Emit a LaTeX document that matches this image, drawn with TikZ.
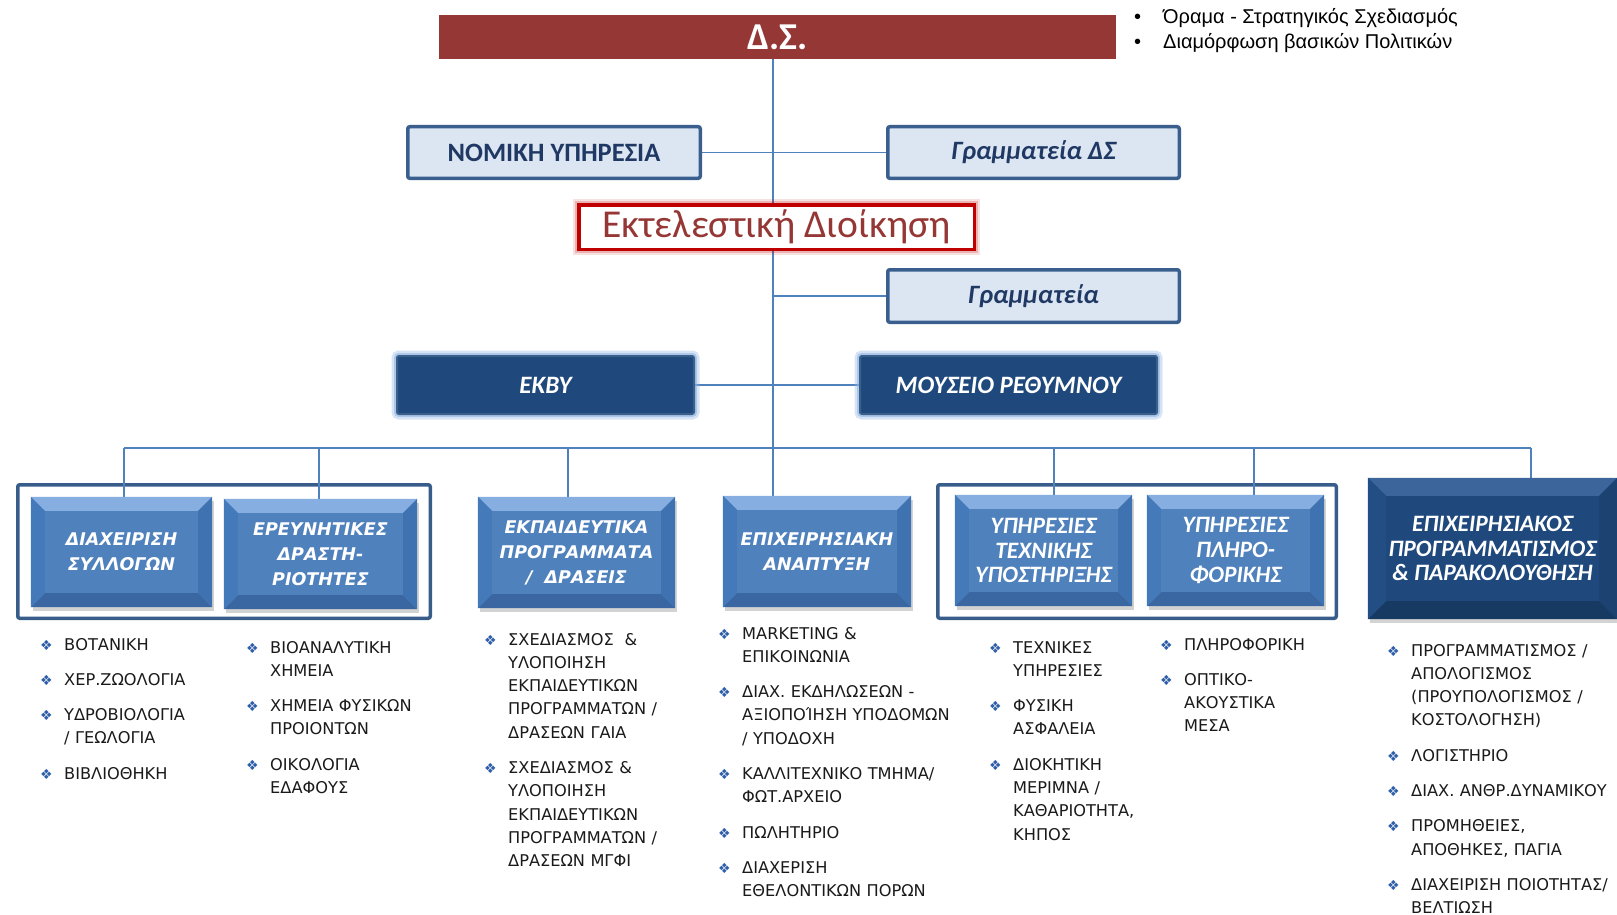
\documentclass[tikz,border=0pt]{standalone}
\usepackage{fontspec}
\setmainfont{DejaVu Sans}
\newfontfamily\carl{Carlito}
\newfontfamily\narrowsans{Liberation Sans}
\usetikzlibrary{calc,shadows}
\pgfdeclarelayer{grp}
\pgfdeclarelayer{lines}
\pgfsetlayers{grp,lines,main}
\definecolor{conn}{HTML}{4F81BD}
\definecolor{dsred}{HTML}{953735}
\definecolor{navytxt}{HTML}{1F3864}
\definecolor{lightfill}{HTML}{DCE6F2}
\definecolor{lightborder}{HTML}{3A5F8F}
\definecolor{execred}{HTML}{C00000}
\definecolor{exectxt}{HTML}{953735}
\definecolor{navy}{HTML}{1F497D}
\definecolor{navyedge}{HTML}{3A5F8B}
\definecolor{glowblue}{HTML}{8DB3E2}
\definecolor{grpborder}{HTML}{385D8A}
\definecolor{bulc}{HTML}{2F5FA8}
\definecolor{listtxt}{HTML}{1A1A1A}
\definecolor{lbface}{HTML}{4F81BD}
\definecolor{lbtop}{HTML}{86AEE0}
\definecolor{lbleft}{HTML}{4479BA}
\definecolor{lbright}{HTML}{3F72B0}
\definecolor{lbbot}{HTML}{3A67A2}
\definecolor{dbface}{HTML}{1F497D}
\definecolor{dbtop}{HTML}{3B659B}
\definecolor{dbleft}{HTML}{234E84}
\definecolor{dbright}{HTML}{1B4271}
\definecolor{dbbot}{HTML}{173A63}
\tikzset{
  conline/.style={draw=conn, line width=1.2pt},
  dsbar/.style={fill=dsred, inner sep=0pt, text=white, font=\carl\bfseries\fontsize{38}{40}\selectfont},
  lightbox/.style={draw=lightborder, line width=3.5pt, fill=lightfill, rounded corners=2pt, inner sep=0pt,
     text=navytxt, font=\carl\bfseries\fontsize{26.5}{30}\selectfont},
  lightboxit/.style={lightbox, font=\carl\bfseries\itshape\fontsize{26.5}{30}\selectfont},
  execbox/.style={draw=execred, line width=3.5pt, fill=white, inner sep=0pt, text=exectxt,
     font=\carl\fontsize{39.5}{42}\selectfont,
     preaction={draw=execred, line width=11pt, opacity=0.12},
     preaction={draw=execred, line width=7pt, opacity=0.2}},
  navybox/.style={fill=navy, draw=navyedge, line width=2pt, rounded corners=2pt, inner sep=0pt, text=white,
     font=\carl\bfseries\itshape\fontsize{25}{28}\selectfont,
     preaction={draw=glowblue, line width=11pt, opacity=0.35, rounded corners=4pt},
     preaction={draw=glowblue, line width=6pt, opacity=0.6, rounded corners=3pt}},
  grpbox/.style={draw=grpborder, line width=3.5pt, fill=white, rounded corners=2pt, inner sep=0pt},
  bevbase/.style={inner sep=0pt, drop shadow={opacity=0.35, shadow xshift=2pt, shadow yshift=-4pt}},
  bevfontA/.style={font=\bfseries\itshape\fontsize{17.5}{25}\selectfont},
  bevfontB/.style={font=\carl\bfseries\itshape\fontsize{23.5}{24.7}\selectfont},
  bevtext/.style={text=white, align=center, inner sep=0pt},
  listcol/.style={anchor=base west, inner sep=0pt, text width=260pt, align=left, text=listtxt,
     font=\fontsize{16.2}{23.3}\selectfont},
  topnote/.style={anchor=base west, inner sep=0pt, font=\narrowsans\fontsize{20}{24}\selectfont}
}
\newcommand\li[1]{\noindent\llap{\textcolor{bulc}{\fontsize{14}{14}\selectfont ❖}\hspace{11.5pt}}#1\par}
\newcommand\bevelbox[9]{%
  \node[bevbase, fill=#6face, minimum width=#4pt, minimum height=#5pt] (#1) at (#2,#3) {};
  \fill[#6top] (#1.north west) -- (#1.north east) -- ($(#1.north east)+(-#7pt,-#7pt)$) -- ($(#1.north west)+(#7pt,-#7pt)$) -- cycle;
  \fill[#6bot] (#1.south west) -- (#1.south east) -- ($(#1.south east)+(-#7pt,#7pt)$) -- ($(#1.south west)+(#7pt,#7pt)$) -- cycle;
  \fill[#6left] (#1.north west) -- ($(#1.north west)+(#7pt,-#7pt)$) -- ($(#1.south west)+(#7pt,#7pt)$) -- (#1.south west) -- cycle;
  \fill[#6right] (#1.north east) -- ($(#1.north east)+(-#7pt,-#7pt)$) -- ($(#1.south east)+(-#7pt,#7pt)$) -- (#1.south east) -- cycle;
  \node[bevtext, #8] (#1t) at (#1.center) {#9};
}
\begin{document}
\begin{tikzpicture}[x=1pt,y=-1pt]
\useasboundingbox (0,0) rectangle (1617,915);

% top
\node[dsbar, minimum width=677pt, minimum height=44pt] (ds) at (777.5,37) {Δ.Σ.};
\node[topnote] (note1) at (1134,24) {•\hspace{22pt}Όραμα - Στρατηγικός Σχεδιασμός};
\node[topnote] (note2) at (1134,49) {•\hspace{22pt}Διαμόρφωση βασικών Πολιτικών};

\node[lightbox, minimum width=292.5pt, minimum height=51.5pt] (nomiki) at (554,152.5) {ΝΟΜΙΚΗ ΥΠΗΡΕΣΙΑ};
\node[lightboxit, minimum width=291.5pt, minimum height=51.5pt] (gramds) at (1033.5,152.5) {Γραμματεία ΔΣ};
\node[execbox, minimum width=395.5pt, minimum height=44.5pt] (exec) at (776.5,227) {Εκτελεστική Διοίκηση};
\node[lightboxit, minimum width=291.5pt, minimum height=52.5pt] (gram) at (1033.5,296) {Γραμματεία};
\node[navybox, minimum width=297pt, minimum height=58pt] (ekby) at (545.5,385) {ΕΚΒΥ};
\node[navybox, minimum width=297pt, minimum height=58pt] (mous) at (1008.5,385) {ΜΟΥΣΕΙΟ ΡΕΘΥΜΝΟΥ};

% groups
\begin{pgfonlayer}{grp}
\node[grpbox, minimum width=412.5pt, minimum height=133.5pt] (g1) at (224,551.5) {};
\node[grpbox, minimum width=398.5pt, minimum height=133.5pt] (g2) at (1137,551.5) {};
\end{pgfonlayer}

% bevel boxes
\bevelbox{b1}{121.5}{552}{181}{110}{lb}{14}{bevfontA}{ΔΙΑΧΕΙΡΙΣΗ\\ΣΥΛΛΟΓΩΝ}
\bevelbox{b2}{320.5}{554}{193}{110}{lb}{14}{bevfontA}{ΕΡΕΥΝΗΤΙΚΕΣ\\ΔΡΑΣΤΗ-\\ΡΙΟΤΗΤΕΣ}
\bevelbox{b3}{576.5}{552.5}{197}{111}{lb}{14}{bevfontA}{ΕΚΠΑΙΔΕΥΤΙΚΑ\\ΠΡΟΓΡΑΜΜΑΤΑ\\/ \ ΔΡΑΣΕΙΣ}
\bevelbox{b4}{817}{551.5}{188}{111}{lb}{14}{bevfontA}{ΕΠΙΧΕΙΡΗΣΙΑΚΗ\\ΑΝΑΠΤΥΞΗ}
\bevelbox{b5}{1043.5}{550.5}{177}{111}{lb}{14}{bevfontB}{ΥΠΗΡΕΣΙΕΣ\\ΤΕΧΝΙΚΗΣ\\ΥΠΟΣΤΗΡΙΞΗΣ}
\bevelbox{b6}{1235.5}{550.5}{177}{111}{lb}{14}{bevfontB}{ΥΠΗΡΕΣΙΕΣ\\ΠΛΗΡΟ-\\ΦΟΡΙΚΗΣ}
\bevelbox{b7}{1492.5}{548.5}{249}{141}{db}{18}{bevfontB}{ΕΠΙΧΕΙΡΗΣΙΑΚΟΣ\\ΠΡΟΓΡΑΜΜΑΤΙΣΜΟΣ\\\& ΠΑΡΑΚΟΛΟΥΘΗΣΗ}

% connectors
\begin{pgfonlayer}{lines}
\coordinate (tr0) at (773,59);
\coordinate (bus1) at (124,448);
\coordinate (bus2) at (319,448);
\coordinate (bus3) at (568,448);
\coordinate (bus5) at (1054,448);
\coordinate (bus6) at (1254,448);
\coordinate (bus7) at (1531,448);
\draw[conline] (tr0) -- (tr0 |- b4.north);
\draw[conline] (nomiki.east) -- (gramds.west);
\draw[conline] (tr0 |- gram.west) -- (gram.west);
\draw[conline] (ekby.east) -- (mous.west);
\draw[conline] (bus1) -- (bus7);
\draw[conline] (bus1) -- (bus1 |- b1.north);
\draw[conline] (bus2) -- (bus2 |- b2.north);
\draw[conline] (bus3) -- (bus3 |- b3.north);
\draw[conline] (bus5) -- (bus5 |- b5.north);
\draw[conline] (bus6) -- (bus6 |- b6.north);
\draw[conline] (bus7) -- (bus7 |- b7.north);
\end{pgfonlayer}

% lists
\node[listcol] (L1) at (64,650) {\setlength\parskip{12pt}%
\li{ΒΟΤΑΝΙΚΗ}
\li{ΧΕΡ.ΖΩΟΛΟΓΙΑ}
\li{ΥΔΡΟΒΙΟΛΟΓΙΑ\\/ ΓΕΩΛΟΓΙΑ}
\li{ΒΙΒΛΙΟΘΗΚΗ}};
\node[listcol] (L2) at (270,653) {\setlength\parskip{12pt}%
\li{ΒΙΟΑΝΑΛΥΤΙΚΗ\\ΧΗΜΕΙΑ}
\li{ΧΗΜΕΙΑ ΦΥΣΙΚΩΝ\\ΠΡΟΙΟΝΤΩΝ}
\li{ΟΙΚΟΛΟΓΙΑ\\ΕΔΑΦΟΥΣ}};
\node[listcol] (L3) at (508,645) {\setlength\parskip{12pt}%
\li{ΣΧΕΔΙΑΣΜΟΣ \ \&\\ΥΛΟΠΟΙΗΣΗ\\ΕΚΠΑΙΔΕΥΤΙΚΩΝ\\ΠΡΟΓΡΑΜΜΑΤΩΝ /\\ΔΡΑΣΕΩΝ ΓΑΙΑ}
\li{ΣΧΕΔΙΑΣΜΟΣ \&\\ΥΛΟΠΟΙΗΣΗ\\ΕΚΠΑΙΔΕΥΤΙΚΩΝ\\ΠΡΟΓΡΑΜΜΑΤΩΝ /\\ΔΡΑΣΕΩΝ ΜΓΦΙ}};
\node[listcol] (L4) at (742,639) {\setlength\parskip{12pt}%
\li{MARKETING \&\\ΕΠΙΚΟΙΝΩΝΙΑ}
\li{ΔΙΑΧ. ΕΚΔΗΛΩΣΕΩΝ -\\ΑΞΙΟΠΟΊΗΣΗ ΥΠΟΔΟΜΩΝ\\/ ΥΠΟΔΟΧΗ}
\li{ΚΑΛΛΙΤΕΧΝΙΚΟ ΤΜΗΜΑ/\\ΦΩΤ.ΑΡΧΕΙΟ}
\li{ΠΩΛΗΤΗΡΙΟ}
\li{ΔΙΑΧΕΡΙΣΗ\\ΕΘΕΛΟΝΤΙΚΩΝ ΠΟΡΩΝ}};
\node[listcol] (L5) at (1013,653) {\setlength\parskip{12pt}%
\li{ΤΕΧΝΙΚΕΣ\\ΥΠΗΡΕΣΙΕΣ}
\li{ΦΥΣΙΚΗ\\ΑΣΦΑΛΕΙΑ}
\li{ΔΙΟΚΗΤΙΚΗ\\ΜΕΡΙΜΝΑ /\\ΚΑΘΑΡΙΟΤΗΤΑ,\\ΚΗΠΟΣ}};
\node[listcol] (L6) at (1184,650) {\setlength\parskip{12pt}%
\li{ΠΛΗΡΟΦΟΡΙΚΗ}
\li{ΟΠΤΙΚΟ-\\ΑΚΟΥΣΤΙΚΑ\\ΜΕΣΑ}};
\node[listcol] (L7) at (1411,656) {\setlength\parskip{12pt}%
\li{ΠΡΟΓΡΑΜΜΑΤΙΣΜΟΣ /\\ΑΠΟΛΟΓΙΣΜΟΣ\\(ΠΡΟΥΠΟΛΟΓΙΣΜΟΣ /\\ΚΟΣΤΟΛΟΓΗΣΗ)}
\li{ΛΟΓΙΣΤΗΡΙΟ}
\li{ΔΙΑΧ. ΑΝΘΡ.ΔΥΝΑΜΙΚΟΥ}
\li{ΠΡΟΜΗΘΕΙΕΣ,\\ΑΠΟΘΗΚΕΣ, ΠΑΓΙΑ}
\li{ΔΙΑΧΕΙΡΙΣΗ ΠΟΙΟΤΗΤΑΣ/\\ΒΕΛΤΙΩΣΗ}};
\end{tikzpicture}
\end{document}
